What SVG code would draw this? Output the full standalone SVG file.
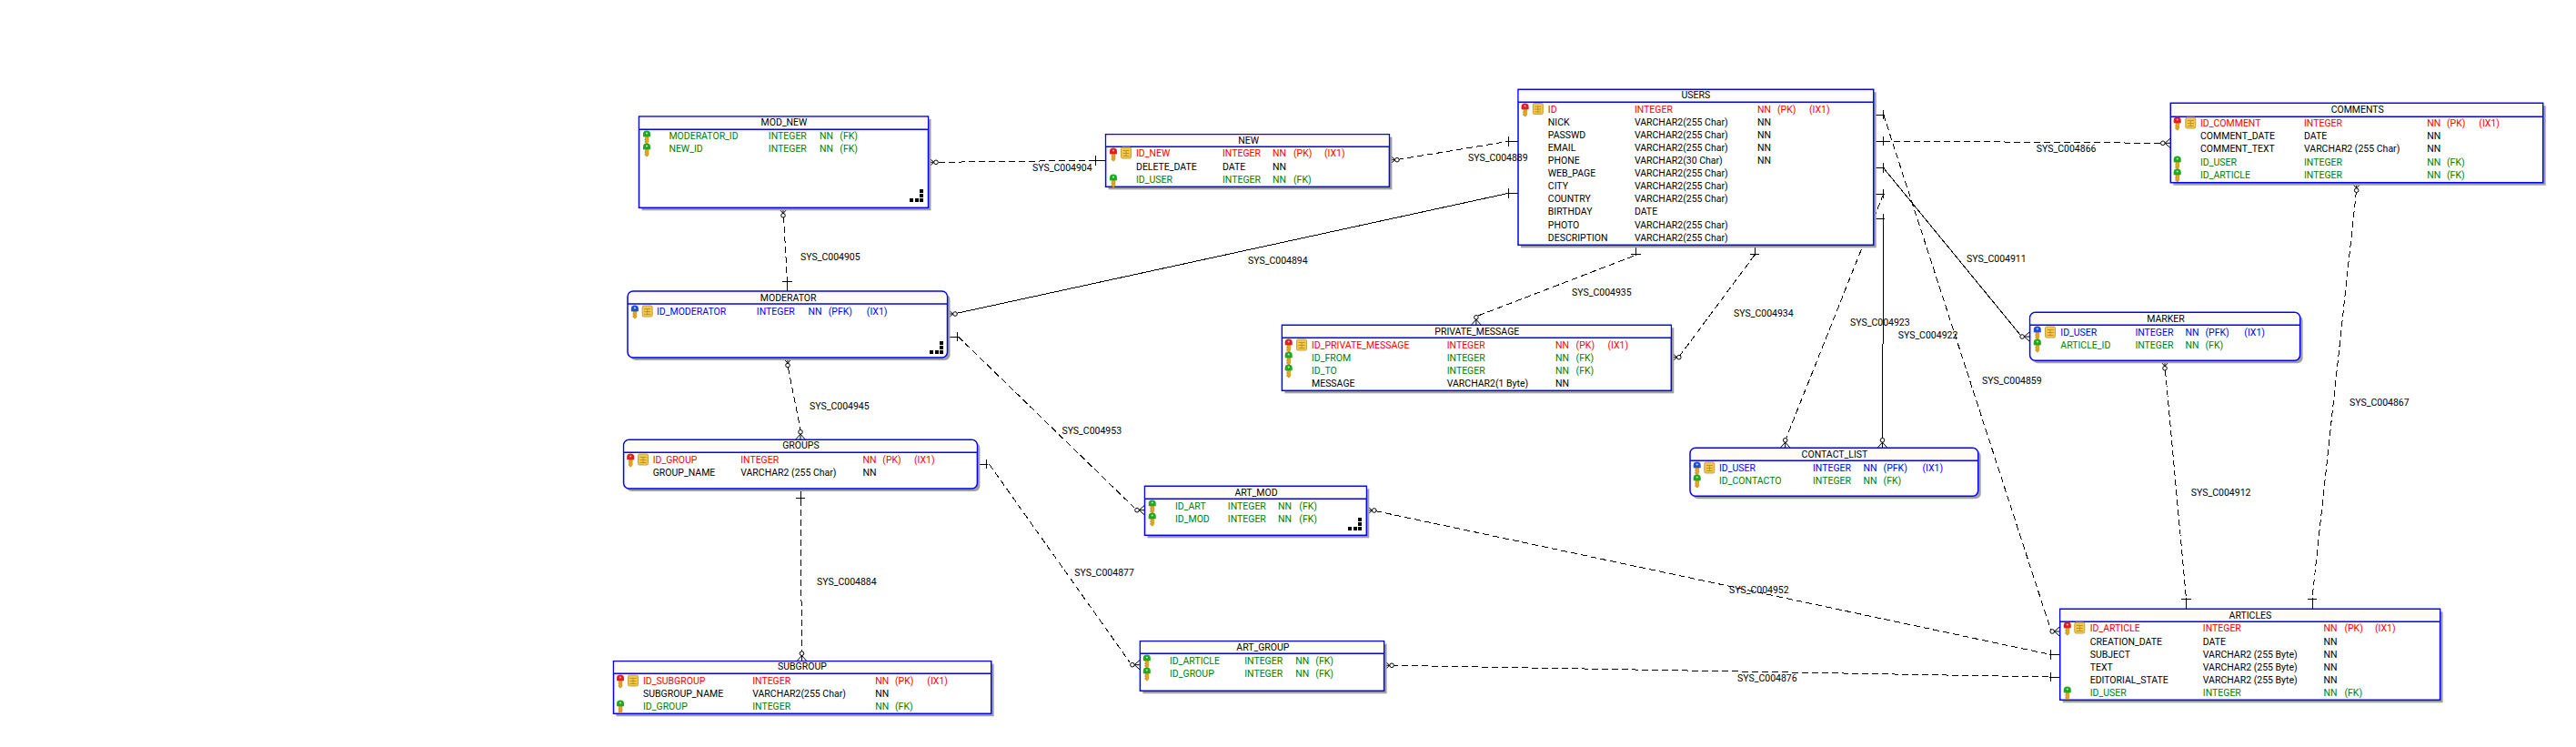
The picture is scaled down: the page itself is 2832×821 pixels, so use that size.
<svg xmlns="http://www.w3.org/2000/svg" width="2832" height="821" viewBox="0 0 2832 821">
<style>
text{font-family:"Roboto","Liberation Sans",sans-serif;font-size:10.5px;fill:#000}
.t{text-anchor:middle}
.r{fill:#f00}.g{fill:#008000}.b{fill:#00f}
.box{fill:#fff;stroke:#00f;stroke-width:1.5}
.hd{fill:#fffcf5}
.sep{stroke:#00f;stroke-width:1.5;fill:none}
.sh{fill:#a0a0a0}
.c{fill:none;stroke:#000;stroke-width:1;shape-rendering:crispEdges}
.d{stroke-dasharray:7 4}
</style>
<defs>
<g id="crow"><circle cx="-8.500" cy="0" r="2.300" fill="#fff" stroke="#000"/><path d="M-6.200 0L0 0M-6.200 0L0 -5.500M-6.200 0L0 5.500" fill="none" stroke="#000"/></g>
<g id="one"><path d="M-10.500 -5.300V5.300M-12 0H0" fill="none" stroke="#000" shape-rendering="crispEdges"/></g>
<g id="keybase"><path d="M-2 3h4v6l-1.500 2h-1l-.5 -1.500h-1v-1.500h1v-1h-1v-1.500h1l-.5 -.8z" fill="#e6a817" stroke="#b07a10" stroke-width=".5"/></g>
<g id="kr"><use href="#keybase"/><path d="M-4 3.200v-3a4 3.700 0 0 1 8 0v3z" fill="#e02020"/><circle cy="-.6" r="1" fill="#fbb"/></g>
<g id="kg"><use href="#keybase"/><path d="M-4 3.200v-3a4 3.700 0 0 1 8 0v3z" fill="#20a820"/><circle cy="-.6" r="1" fill="#bfb"/></g>
<g id="kb"><use href="#keybase"/><path d="M-4 3.200v-3a4 3.700 0 0 1 8 0v3z" fill="#2050d0"/><circle cy="-.6" r="1" fill="#ddf"/></g>
<g id="tb"><rect x="-5.500" y="-6" width="11" height="12" rx="1.500" fill="#f0c850" stroke="#c8a040"/><path d="M-3.500 -2.500h7M-3.500 .5h7M-3.500 3.500h7M0 -3v7" stroke="#b88a10" stroke-width=".8" fill="none"/></g>
<g id="grip"><path d="M0 10h4v4h-4zM5.500 10h4v4h-4zM11 10h4v4h-4zM11 5h4v4h-4zM11 0h4v4h-4z" fill="#000" shape-rendering="crispEdges"/></g>
</defs>
<rect width="2832" height="821" fill="#fff"/>

<g id="connectors">
<g id="c4904"><path class="c d" d="M1032 178.300L1204.600 176.300"/><use href="#crow" transform="translate(1020.500 178.300) rotate(180)"/><use href="#one" transform="translate(1215.300 176.300)"/></g>
<g id="c4905"><path class="c d" d="M861.500 238L865.500 310"/><use href="#crow" transform="translate(861 228.300) rotate(-90)"/><use href="#one" transform="translate(865.500 320) rotate(90)"/></g>
<g id="c4889"><path class="c d" d="M1536 175.500L1658.700 155.300"/><use href="#crow" transform="translate(1527.400 175.700) rotate(180)"/><use href="#one" transform="translate(1669 155.300)"/></g>
<g id="c4894"><path class="c" d="M1051 344.500L1658.700 212.300"/><use href="#crow" transform="translate(1041.500 345) rotate(180)"/><use href="#one" transform="translate(1669 212.300)"/></g>
<g id="c4935"><path class="c d" d="M1625 347L1798.700 280.300"/><use href="#crow" transform="translate(1622.900 357.300) rotate(90)"/><use href="#one" transform="translate(1798.700 269.300) rotate(-90)"/></g>
<g id="c4934"><path class="c d" d="M1846 392L1929 280.300"/><use href="#crow" transform="translate(1837.300 392.700) rotate(180)"/><use href="#one" transform="translate(1929 269.300) rotate(-90)"/></g>
<g id="c4923"><path class="c" d="M2070.700 240L2069.500 482"/><use href="#crow" transform="translate(2069.500 492.300) rotate(90)"/><use href="#one" transform="translate(2059.700 240) rotate(180)"/></g>
<g id="c4922"><path class="c d" d="M2070.700 213L1963.500 482"/><use href="#crow" transform="translate(1962.700 492.300) rotate(90)"/><use href="#one" transform="translate(2059.700 213) rotate(180)"/></g>
<g id="c4911"><path class="c" d="M2070.700 184.700L2221 368"/><use href="#crow" transform="translate(2231.600 370)"/><use href="#one" transform="translate(2059.700 184.700) rotate(180)"/></g>
<g id="c4866"><path class="c d" d="M2070.700 155L2375 157.300"/><use href="#crow" transform="translate(2386.300 157.300)"/><use href="#one" transform="translate(2059.700 155) rotate(180)"/></g>
<g id="c4859"><path class="c d" d="M2070.700 126L2254.500 692"/><use href="#crow" transform="translate(2264.700 694)"/><use href="#one" transform="translate(2059.700 126) rotate(180)"/></g>
<g id="c4912"><path class="c d" d="M2380.500 407L2403.400 657.300"/><use href="#crow" transform="translate(2380 396.300) rotate(-90)"/><use href="#one" transform="translate(2403.400 669.300) rotate(90)"/></g>
<g id="c4867"><path class="c d" d="M2590.500 210L2542 657.300"/><use href="#crow" transform="translate(2590.700 200.700) rotate(-90)"/><use href="#one" transform="translate(2542 669.300) rotate(90)"/></g>
<g id="c4952"><path class="c d" d="M1512 561.500L2253.800 719.300"/><use href="#crow" transform="translate(1502.300 561) rotate(180)"/><use href="#one" transform="translate(2264.700 719.300)"/></g>
<g id="c4876"><path class="c d" d="M1530 731.300L2253.800 744"/><use href="#crow" transform="translate(1521.600 731.300) rotate(180)"/><use href="#one" transform="translate(2264.700 744)"/></g>
<g id="c4945"><path class="c d" d="M866.500 404L880 472"/><use href="#crow" transform="translate(866 393) rotate(-90)"/><use href="#crow" transform="translate(880 483.300) rotate(90)"/></g>
<g id="c4953"><path class="c d" d="M1053.400 370L1247 558"/><use href="#crow" transform="translate(1258.500 560.700)"/><use href="#one" transform="translate(1041.500 370) rotate(180)"/></g>
<g id="c4877"><path class="c d" d="M1087.400 510L1242.500 728.500"/><use href="#crow" transform="translate(1253.400 730.700)"/><use href="#one" transform="translate(1074.400 510) rotate(180)"/></g>
<g id="c4884"><path class="c d" d="M880 549.300L881.500 716"/><use href="#crow" transform="translate(881.500 726.700) rotate(90)"/><use href="#one" transform="translate(880 537) rotate(-90)"/></g>
</g>

<g id="MOD_NEW">
<rect class="sh" x="705.500" y="131" width="318" height="100.300"/><rect class="box" x="702.500" y="128" width="318" height="100.300"/><rect class="hd" x="703.300" y="128.800" width="316.400" height="13.500"/><path class="sep" d="M702.500 142.300H1020.500"/>
<text class="t" x="862" y="138.300">MOD_NEW</text>
<use href="#kg" transform="translate(711 147)"/><use href="#kg" transform="translate(711 161)"/>
<text class="g" x="735.400" y="152.700">MODERATOR_ID</text><text class="g" x="844.800" y="152.700">INTEGER</text><text class="g" x="901" y="152.700">NN</text><text class="g" x="923.300" y="152.700">(FK)</text>
<text class="g" x="735.400" y="166.700">NEW_ID</text><text class="g" x="844.800" y="166.700">INTEGER</text><text class="g" x="901" y="166.700">NN</text><text class="g" x="923.300" y="166.700">(FK)</text>
<use href="#grip" transform="translate(1000 208)"/>
</g>

<g id="NEW">
<rect class="sh" x="1218.600" y="150.700" width="311.800" height="57.600"/><rect class="box" x="1215.600" y="147.700" width="311.800" height="57.600"/><rect class="hd" x="1216.400" y="148.500" width="310.200" height="12.800"/><path class="sep" d="M1215.600 161.300H1527.400"/>
<text class="t" x="1372.600" y="157.700">NEW</text>
<use href="#kr" transform="translate(1224 166)"/><use href="#tb" transform="translate(1238 168)"/><use href="#kg" transform="translate(1224 195)"/>
<text class="r" x="1249" y="171.700">ID_NEW</text><text class="r" x="1344" y="171.700">INTEGER</text><text class="r" x="1399" y="171.700">NN</text><text class="r" x="1422" y="171.700">(PK)</text><text class="r" x="1456" y="171.700">(IX1)</text>
<text x="1249" y="186.700">DELETE_DATE</text><text x="1344" y="186.700">DATE</text><text x="1399" y="186.700">NN</text>
<text class="g" x="1249" y="200.700">ID_USER</text><text class="g" x="1344" y="200.700">INTEGER</text><text class="g" x="1399" y="200.700">NN</text><text class="g" x="1422" y="200.700">(FK)</text>
</g>

<g id="USERS">
<rect class="sh" x="1672" y="101.300" width="390.700" height="171"/><rect class="box" x="1669" y="98.300" width="390.700" height="171"/><rect class="hd" x="1669.800" y="99.100" width="389.100" height="13.200"/><path class="sep" d="M1669 112.300H2059.700"/>
<text class="t" x="1864.400" y="108.300">USERS</text>
<use href="#kr" transform="translate(1676.600 117)"/><use href="#tb" transform="translate(1690.800 119.500)"/>
<text class="r" x="1701.800" y="123.700">ID</text><text class="r" x="1796.900" y="123.700">INTEGER</text><text class="r" x="1932" y="123.700">NN</text><text class="r" x="1954" y="123.700">(PK)</text><text class="r" x="1989" y="123.700">(IX1)</text>
<text x="1701.800" y="137.700">NICK</text><text x="1796.900" y="137.700">VARCHAR2(255 Char)</text><text x="1932" y="137.700">NN</text>
<text x="1701.800" y="151.700">PASSWD</text><text x="1796.900" y="151.700">VARCHAR2(255 Char)</text><text x="1932" y="151.700">NN</text>
<text x="1701.800" y="165.700">EMAIL</text><text x="1796.900" y="165.700">VARCHAR2(255 Char)</text><text x="1932" y="165.700">NN</text>
<text x="1701.800" y="179.700">PHONE</text><text x="1796.900" y="179.700">VARCHAR2(30 Char)</text><text x="1932" y="179.700">NN</text>
<text x="1701.800" y="193.700">WEB_PAGE</text><text x="1796.900" y="193.700">VARCHAR2(255 Char)</text>
<text x="1701.800" y="207.700">CITY</text><text x="1796.900" y="207.700">VARCHAR2(255 Char)</text>
<text x="1701.800" y="221.700">COUNTRY</text><text x="1796.900" y="221.700">VARCHAR2(255 Char)</text>
<text x="1701.800" y="235.700">BIRTHDAY</text><text x="1796.900" y="235.700">DATE</text>
<text x="1701.800" y="250.700">PHOTO</text><text x="1796.900" y="250.700">VARCHAR2(255 Char)</text>
<text x="1701.800" y="264.700">DESCRIPTION</text><text x="1796.900" y="264.700">VARCHAR2(255 Char)</text>
</g>

<g id="COMMENTS">
<rect class="sh" x="2389.300" y="116.300" width="409.400" height="87.400"/><rect class="box" x="2386.300" y="113.300" width="409.400" height="87.400"/><rect class="hd" x="2387.100" y="114.100" width="407.800" height="14.200"/><path class="sep" d="M2386.300 128.300H2795.700"/>
<text class="t" x="2591.700" y="123.700">COMMENTS</text>
<use href="#kr" transform="translate(2393.700 132)"/><use href="#tb" transform="translate(2408.300 135)"/><use href="#kg" transform="translate(2393.700 175)"/><use href="#kg" transform="translate(2393.700 189)"/>
<text class="r" x="2419" y="138.700">ID_COMMENT</text><text class="r" x="2533" y="138.700">INTEGER</text><text class="r" x="2668.300" y="138.700">NN</text><text class="r" x="2690" y="138.700">(PK)</text><text class="r" x="2725.300" y="138.700">(IX1)</text>
<text x="2419" y="152.700">COMMENT_DATE</text><text x="2533" y="152.700">DATE</text><text x="2668.300" y="152.700">NN</text>
<text x="2419" y="166.700">COMMENT_TEXT</text><text x="2533" y="166.700">VARCHAR2 (255 Char)</text><text x="2668.300" y="166.700">NN</text>
<text class="g" x="2419" y="181.700">ID_USER</text><text class="g" x="2533" y="181.700">INTEGER</text><text class="g" x="2668.300" y="181.700">NN</text><text class="g" x="2690" y="181.700">(FK)</text>
<text class="g" x="2419" y="195.700">ID_ARTICLE</text><text class="g" x="2533" y="195.700">INTEGER</text><text class="g" x="2668.300" y="195.700">NN</text><text class="g" x="2690" y="195.700">(FK)</text>
</g>

<g id="MODERATOR">
<rect class="sh" x="693" y="323" width="351.500" height="73" rx="6"/><rect class="box" x="690" y="320" width="351.500" height="73" rx="6"/><path class="hd" d="M691 334V326a5 5 0 0 1 5 -5H1035.500a5 5 0 0 1 5 5V334z"/><path class="sep" d="M690 334H1041.500"/>
<text class="t" x="866.700" y="330.700">MODERATOR</text>
<use href="#kb" transform="translate(697.900 339)"/><use href="#tb" transform="translate(711.700 342)"/>
<text class="b" x="722" y="345.700">ID_MODERATOR</text><text class="b" x="831.800" y="345.700">INTEGER</text><text class="b" x="888.500" y="345.700">NN</text><text class="b" x="910.700" y="345.700">(PFK)</text><text class="b" x="952.800" y="345.700">(IX1)</text>
<use href="#grip" transform="translate(1022 374.500)"/>
</g>

<g id="PRIVATE_MESSAGE">
<rect class="sh" x="1412.400" y="360.300" width="427.900" height="72"/><rect class="box" x="1409.400" y="357.300" width="427.900" height="72"/><rect class="hd" x="1410.200" y="358.100" width="426.300" height="13.200"/><path class="sep" d="M1409.400 371.300H1837.300"/>
<text class="t" x="1623.800" y="367.700">PRIVATE_MESSAGE</text>
<use href="#kr" transform="translate(1416.700 376)"/><use href="#tb" transform="translate(1431 379)"/><use href="#kg" transform="translate(1416.700 390)"/><use href="#kg" transform="translate(1416.700 404)"/>
<text class="r" x="1442" y="382.700">ID_PRIVATE_MESSAGE</text><text class="r" x="1590.700" y="382.700">INTEGER</text><text class="r" x="1710" y="382.700">NN</text><text class="r" x="1732.600" y="382.700">(PK)</text><text class="r" x="1767.500" y="382.700">(IX1)</text>
<text class="g" x="1442" y="396.700">ID_FROM</text><text class="g" x="1590.700" y="396.700">INTEGER</text><text class="g" x="1710" y="396.700">NN</text><text class="g" x="1732.600" y="396.700">(FK)</text>
<text class="g" x="1442" y="410.700">ID_TO</text><text class="g" x="1590.700" y="410.700">INTEGER</text><text class="g" x="1710" y="410.700">NN</text><text class="g" x="1732.600" y="410.700">(FK)</text>
<text x="1442" y="424.700">MESSAGE</text><text x="1590.700" y="424.700">VARCHAR2(1 Byte)</text><text x="1710" y="424.700">NN</text>
</g>

<g id="MARKER">
<rect class="sh" x="2234.600" y="346.300" width="297" height="53" rx="6"/><rect class="box" x="2231.600" y="343.300" width="297" height="53" rx="6"/><path class="hd" d="M2232.600 357.300V349.300a5 5 0 0 1 5 -5H2522.600a5 5 0 0 1 5 5V357.300z"/><path class="sep" d="M2231.600 357.300H2528.600"/>
<text class="t" x="2381" y="353.700">MARKER</text>
<use href="#kb" transform="translate(2239.800 362)"/><use href="#tb" transform="translate(2254 365)"/><use href="#kg" transform="translate(2239.800 376)"/>
<text class="b" x="2265.300" y="368.700">ID_USER</text><text class="b" x="2347.400" y="368.700">INTEGER</text><text class="b" x="2402.600" y="368.700">NN</text><text class="b" x="2424.500" y="368.700">(PFK)</text><text class="b" x="2467.300" y="368.700">(IX1)</text>
<text class="g" x="2265.300" y="382.700">ARTICLE_ID</text><text class="g" x="2347.400" y="382.700">INTEGER</text><text class="g" x="2402.600" y="382.700">NN</text><text class="g" x="2424.500" y="382.700">(FK)</text>
</g>

<g id="GROUPS">
<rect class="sh" x="688.600" y="486.300" width="388.800" height="53.700" rx="6"/><rect class="box" x="685.600" y="483.300" width="388.800" height="53.700" rx="6"/><path class="hd" d="M686.600 497.300V489.300a5 5 0 0 1 5 -5H1068.400a5 5 0 0 1 5 5V497.300z"/><path class="sep" d="M685.600 497.300H1074.400"/>
<text class="t" x="880.400" y="493.300">GROUPS</text>
<use href="#kr" transform="translate(693.200 502)"/><use href="#tb" transform="translate(707 505)"/>
<text class="r" x="717.700" y="508.700">ID_GROUP</text><text class="r" x="814.200" y="508.700">INTEGER</text><text class="r" x="948.500" y="508.700">NN</text><text class="r" x="970.300" y="508.700">(PK)</text><text class="r" x="1005" y="508.700">(IX1)</text>
<text x="717.700" y="522.700">GROUP_NAME</text><text x="814.200" y="522.700">VARCHAR2 (255 Char)</text><text x="948.500" y="522.700">NN</text>
</g>

<g id="SUBGROUP">
<rect class="sh" x="677.500" y="729.700" width="415.200" height="57.600"/><rect class="box" x="674.500" y="726.700" width="415.200" height="57.600"/><rect class="hd" x="675.300" y="727.500" width="413.600" height="12.800"/><path class="sep" d="M674.500 740.300H1089.700"/>
<text class="t" x="881.900" y="736.300">SUBGROUP</text>
<use href="#kr" transform="translate(682 745)"/><use href="#tb" transform="translate(696 748)"/><use href="#kg" transform="translate(682 773)"/>
<text class="r" x="707" y="751.700">ID_SUBGROUP</text><text class="r" x="827.200" y="751.700">INTEGER</text><text class="r" x="962.300" y="751.700">NN</text><text class="r" x="984" y="751.700">(PK)</text><text class="r" x="1019.300" y="751.700">(IX1)</text>
<text x="707" y="765.700">SUBGROUP_NAME</text><text x="827.200" y="765.700">VARCHAR2(255 Char)</text><text x="962.300" y="765.700">NN</text>
<text class="g" x="707" y="779.700">ID_GROUP</text><text class="g" x="827.200" y="779.700">INTEGER</text><text class="g" x="962.300" y="779.700">NN</text><text class="g" x="984" y="779.700">(FK)</text>
</g>

<g id="ART_MOD">
<rect class="sh" x="1261.500" y="537.300" width="243.800" height="54"/><rect class="box" x="1258.500" y="534.300" width="243.800" height="54"/><rect class="hd" x="1259.300" y="535.100" width="242.200" height="13.200"/><path class="sep" d="M1258.500 548.300H1502.300"/>
<text class="t" x="1381" y="544.700">ART_MOD</text>
<use href="#kg" transform="translate(1266.700 553)"/><use href="#kg" transform="translate(1266.700 567)"/>
<text class="g" x="1292" y="559.700">ID_ART</text><text class="g" x="1349.800" y="559.700">INTEGER</text><text class="g" x="1405" y="559.700">NN</text><text class="g" x="1428.300" y="559.700">(FK)</text>
<text class="g" x="1292" y="573.700">ID_MOD</text><text class="g" x="1349.800" y="573.700">INTEGER</text><text class="g" x="1405" y="573.700">NN</text><text class="g" x="1428.300" y="573.700">(FK)</text>
<use href="#grip" transform="translate(1482 569)"/>
</g>

<g id="ART_GROUP">
<rect class="sh" x="1256.400" y="707.700" width="268.200" height="54.600"/><rect class="box" x="1253.400" y="704.700" width="268.200" height="54.600"/><rect class="hd" x="1254.200" y="705.500" width="266.600" height="12.800"/><path class="sep" d="M1253.400 718.300H1521.600"/>
<text class="t" x="1388.400" y="714.700">ART_GROUP</text>
<use href="#kg" transform="translate(1260.800 723)"/><use href="#kg" transform="translate(1260.800 737)"/>
<text class="g" x="1286" y="729.700">ID_ARTICLE</text><text class="g" x="1368.200" y="729.700">INTEGER</text><text class="g" x="1424.200" y="729.700">NN</text><text class="g" x="1446.300" y="729.700">(FK)</text>
<text class="g" x="1286" y="743.700">ID_GROUP</text><text class="g" x="1368.200" y="743.700">INTEGER</text><text class="g" x="1424.200" y="743.700">NN</text><text class="g" x="1446.300" y="743.700">(FK)</text>
</g>

<g id="CONTACT_LIST">
<rect class="sh" x="1861" y="495.300" width="316.700" height="53" rx="6"/><rect class="box" x="1858" y="492.300" width="316.700" height="53" rx="6"/><path class="hd" d="M1859 506.300V498.300a5 5 0 0 1 5 -5H2168.700a5 5 0 0 1 5 5V506.300z"/><path class="sep" d="M1858 506.300H2174.700"/>
<text class="t" x="2017" y="502.700">CONTACT_LIST</text>
<use href="#kb" transform="translate(1865.700 511)"/><use href="#tb" transform="translate(1879.300 514)"/><use href="#kg" transform="translate(1865.700 525)"/>
<text class="b" x="1890" y="517.700">ID_USER</text><text class="b" x="1993" y="517.700">INTEGER</text><text class="b" x="2048.400" y="517.700">NN</text><text class="b" x="2070.600" y="517.700">(PFK)</text><text class="b" x="2113.400" y="517.700">(IX1)</text>
<text class="g" x="1890" y="531.700">ID_CONTACTO</text><text class="g" x="1993" y="531.700">INTEGER</text><text class="g" x="2048.400" y="531.700">NN</text><text class="g" x="2070.600" y="531.700">(FK)</text>
</g>

<g id="ARTICLES">
<rect class="sh" x="2267.700" y="672.300" width="417.900" height="100"/><rect class="box" x="2264.700" y="669.300" width="417.900" height="100"/><rect class="hd" x="2265.500" y="670.100" width="416.300" height="13.200"/><path class="sep" d="M2264.700 683.300H2682.600"/>
<text class="t" x="2473.900" y="679.700">ARTICLES</text>
<use href="#kr" transform="translate(2272.800 687)"/><use href="#tb" transform="translate(2286.300 690)"/><use href="#kg" transform="translate(2272.800 758)"/>
<text class="r" x="2297.700" y="693.700">ID_ARTICLE</text><text class="r" x="2421.800" y="693.700">INTEGER</text><text class="r" x="2554.600" y="693.700">NN</text><text class="r" x="2577.400" y="693.700">(PK)</text><text class="r" x="2611" y="693.700">(IX1)</text>
<text x="2297.700" y="708.700">CREATION_DATE</text><text x="2421.800" y="708.700">DATE</text><text x="2554.600" y="708.700">NN</text>
<text x="2297.700" y="722.700">SUBJECT</text><text x="2421.800" y="722.700">VARCHAR2 (255 Byte)</text><text x="2554.600" y="722.700">NN</text>
<text x="2297.700" y="736.700">TEXT</text><text x="2421.800" y="736.700">VARCHAR2 (255 Byte)</text><text x="2554.600" y="736.700">NN</text>
<text x="2297.700" y="750.700">EDITORIAL_STATE</text><text x="2421.800" y="750.700">VARCHAR2 (255 Byte)</text><text x="2554.600" y="750.700">NN</text>
<text class="g" x="2297.700" y="764.700">ID_USER</text><text class="g" x="2421.800" y="764.700">INTEGER</text><text class="g" x="2554.600" y="764.700">NN</text><text class="g" x="2577.400" y="764.700">(FK)</text>
</g>

<g id="connector-labels">
<text x="1135" y="187.700">SYS_C004904</text>
<text x="880" y="285.700">SYS_C004905</text>
<text x="1614" y="176.700">SYS_C004889</text>
<text x="1372" y="289.700">SYS_C004894</text>
<text x="1728" y="324.700">SYS_C004935</text>
<text x="1906" y="347.700">SYS_C004934</text>
<text x="2034" y="357.700">SYS_C004923</text>
<text x="2086.700" y="371.700">SYS_C004922</text>
<text x="2162" y="287.700">SYS_C004911</text>
<text x="2179" y="421.700">SYS_C004859</text>
<text x="2238.800" y="166.700">SYS_C004866</text>
<text x="2583" y="446">SYS_C004867</text>
<text x="2408.800" y="544.700">SYS_C004912</text>
<text x="1901" y="651.700">SYS_C004952</text>
<text x="1910" y="748.700">SYS_C004876</text>
<text x="890" y="449.700">SYS_C004945</text>
<text x="1167.400" y="476.700">SYS_C004953</text>
<text x="1181.200" y="632.700">SYS_C004877</text>
<text x="898" y="642.700">SYS_C004884</text>
</g>
</svg>
